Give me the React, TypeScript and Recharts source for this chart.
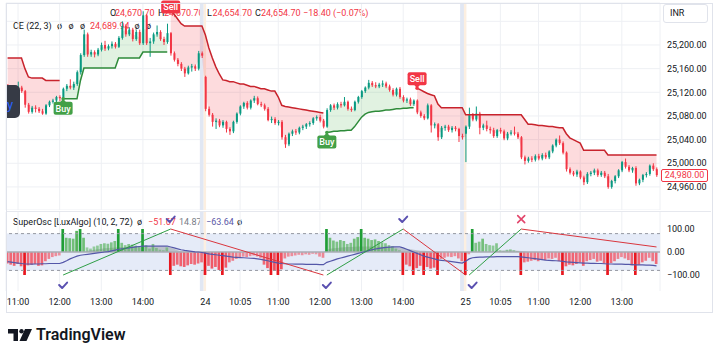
import React from 'react';
import {
  ComposedChart,
  Bar,
  Line,
  Area,
  XAxis,
  YAxis,
  CartesianGrid,
  ReferenceArea,
  ReferenceLine,
  ReferenceDot,
  Cell,
} from 'recharts';

const FONT = 'Roboto, "Noto Sans", sans-serif';
const TEXT = '#131722';
const RED = '#f23645';
const UP = '#089981';
const GRID = '#eef0f4';

// time axis (5 min bars, index based)
const timeTicks = [3, 15, 27, 39, 57, 67, 78, 90, 102, 114, 132, 142, 153, 165, 177];
const timeLabels = ['11:00', '12:00', '13:00', '14:00', '24', '10:05', '11:00', '12:00', '13:00', '14:00', '25', '10:05', '11:00', '12:00', '13:00'];
const sessionStarts = [57, 132];
const priceTicks = [24960, 25000, 25040, 25080, 25120, 25160, 25200, 25240];
const oscTicks = [-100, 0, 100];

// candles: [open, high, low, close]
const day1 = [
  [25128, 25134, 25118, 25122], [25122, 25130, 25116, 25126], [25126, 25132, 25117, 25120], [25120, 25138, 25116, 25128],
  [25128, 25131, 25119, 25122], [25122, 25124, 25094, 25099], [25099, 25102, 25084, 25087], [25087, 25097, 25084, 25094],
  [25094, 25098, 25086, 25092], [25092, 25095, 25085, 25088], [25088, 25092, 25082, 25084], [25084, 25100, 25082, 25098],
  [25098, 25106, 25095, 25104], [25104, 25109, 25101, 25106], [25106, 25114, 25103, 25112], [25112, 25115, 25105, 25110],
  [25110, 25128, 25108, 25126], [25126, 25134, 25122, 25131], [25131, 25142, 25125, 25128], [25128, 25138, 25124, 25134],
  [25134, 25157, 25131, 25154], [25154, 25186, 25150, 25183], [25183, 25226, 25180, 25218], [25218, 25221, 25180, 25184],
  [25184, 25192, 25180, 25188], [25188, 25191, 25179, 25184], [25184, 25195, 25181, 25192], [25192, 25204, 25189, 25200],
  [25200, 25207, 25190, 25194], [25194, 25201, 25191, 25198], [25198, 25206, 25194, 25202], [25202, 25205, 25194, 25197],
  [25197, 25215, 25195, 25212], [25212, 25240, 25209, 25232], [25232, 25235, 25214, 25218], [25218, 25230, 25215, 25226],
  [25226, 25229, 25206, 25210], [25210, 25226, 25207, 25222], [25222, 25226, 25200, 25203], [25203, 25257, 25200, 25250],
  [25250, 25252, 25200, 25203], [25203, 25212, 25180, 25206], [25206, 25221, 25202, 25218], [25218, 25233, 25214, 25222],
  [25222, 25225, 25207, 25210], [25210, 25214, 25200, 25205], [25205, 25236, 25202, 25220], [25220, 25222, 25182, 25186],
  [25186, 25189, 25172, 25175], [25175, 25178, 25164, 25168], [25168, 25171, 25156, 25160], [25160, 25163, 25146, 25152],
  [25152, 25165, 25150, 25162], [25162, 25168, 25155, 25164], [25164, 25167, 25156, 25160], [25160, 25190, 25157, 25186],
  [25186, 25189, 25178, 25182],
];

const day2 = [
  [25146, 25148, 25088, 25092], [25092, 25096, 25079, 25082], [25082, 25085, 25062, 25070], [25070, 25076, 25058, 25072],
  [25072, 25075, 25061, 25064], [25064, 25073, 25060, 25070], [25070, 25072, 25052, 25058], [25058, 25061, 25048, 25054],
  [25054, 25072, 25051, 25070], [25070, 25086, 25067, 25084], [25084, 25098, 25081, 25096], [25096, 25104, 25092, 25102],
  [25102, 25105, 25091, 25094], [25094, 25108, 25091, 25106], [25106, 25114, 25102, 25110], [25110, 25113, 25098, 25100],
  [25100, 25104, 25095, 25098], [25098, 25101, 25089, 25092], [25092, 25095, 25071, 25073], [25073, 25079, 25068, 25075],
  [25075, 25078, 25065, 25068], [25068, 25073, 25064, 25070], [25070, 25073, 25040, 25044], [25044, 25048, 25026, 25032],
  [25032, 25052, 25029, 25050], [25050, 25057, 25046, 25054], [25054, 25058, 25048, 25052], [25052, 25062, 25049, 25060],
  [25060, 25065, 25056, 25062], [25062, 25068, 25058, 25066], [25066, 25071, 25062, 25068], [25068, 25078, 25065, 25076],
  [25076, 25081, 25072, 25078], [25078, 25082, 25069, 25072], [25072, 25075, 25059, 25062], [25062, 25093, 25060, 25090],
  [25090, 25100, 25087, 25098], [25098, 25101, 25090, 25094], [25094, 25103, 25091, 25100], [25100, 25104, 25094, 25098],
  [25098, 25112, 25096, 25104], [25104, 25106, 25089, 25092], [25092, 25096, 25087, 25090], [25090, 25106, 25088, 25104],
  [25104, 25114, 25101, 25112], [25112, 25124, 25109, 25122], [25122, 25130, 25119, 25128], [25128, 25141, 25125, 25136],
  [25136, 25139, 25129, 25132], [25132, 25137, 25127, 25130], [25130, 25136, 25127, 25133], [25133, 25140, 25129, 25135],
  [25135, 25138, 25127, 25130], [25130, 25133, 25121, 25124], [25124, 25127, 25113, 25116], [25116, 25128, 25113, 25126],
  [25126, 25129, 25109, 25112], [25112, 25115, 25103, 25106], [25106, 25111, 25102, 25108], [25108, 25111, 25097, 25100],
  [25100, 25108, 25097, 25106], [25106, 25108, 25083, 25086], [25086, 25089, 25077, 25080], [25080, 25083, 25073, 25076],
  [25076, 25101, 25074, 25098], [25098, 25100, 25052, 25064], [25064, 25069, 25059, 25066], [25066, 25068, 25038, 25044],
  [25044, 25063, 25041, 25060], [25060, 25065, 25055, 25062], [25062, 25065, 25053, 25056], [25056, 25063, 25052, 25060],
  [25060, 25063, 25054, 25058], [25058, 25060, 25036, 25046], [25046, 25050, 25040, 25044],
];

const day3 = [
  [25050, 25064, 25002, 25062], [25062, 25094, 25058, 25082], [25082, 25085, 25071, 25074], [25074, 25096, 25071, 25084],
  [25084, 25087, 25049, 25060], [25060, 25067, 25056, 25064], [25064, 25072, 25054, 25058], [25058, 25062, 25050, 25056],
  [25056, 25060, 25043, 25046], [25046, 25058, 25043, 25056], [25056, 25060, 25050, 25054], [25054, 25057, 25039, 25042],
  [25042, 25053, 25039, 25050], [25050, 25056, 25047, 25052], [25052, 25062, 25047, 25050], [25050, 25053, 25041, 25044],
  [25044, 25046, 25007, 25010], [25010, 25013, 24998, 25004], [25004, 25011, 25001, 25008], [25008, 25012, 25002, 25006],
  [25006, 25015, 25003, 25012], [25012, 25016, 25005, 25008], [25008, 25017, 25005, 25014], [25014, 25018, 25007, 25010],
  [25010, 25022, 25007, 25020], [25020, 25032, 25017, 25030], [25030, 25042, 25027, 25040], [25040, 25047, 25031, 25034],
  [25034, 25037, 25015, 25018], [25018, 25020, 24986, 24990], [24990, 24993, 24981, 24984], [24984, 24987, 24978, 24981],
  [24981, 24989, 24977, 24986], [24986, 24988, 24973, 24976], [24976, 24979, 24963, 24968], [24968, 24985, 24965, 24982],
  [24982, 24987, 24978, 24984], [24984, 24991, 24980, 24988], [24988, 24991, 24977, 24980], [24980, 24987, 24977, 24984],
  [24984, 24987, 24975, 24978], [24978, 24982, 24957, 24960], [24960, 24972, 24957, 24970], [24970, 24980, 24966, 24978],
  [24978, 24990, 24975, 24988], [24988, 25004, 24985, 25002], [25002, 25008, 24991, 24994], [24994, 24997, 24985, 24988],
  [24988, 24994, 24984, 24992], [24992, 24995, 24962, 24966], [24966, 24974, 24963, 24972], [24972, 24982, 24968, 24980],
  [24980, 24985, 24976, 24982], [24982, 24998, 24979, 24996], [24996, 25000, 24987, 24990], [24990, 24993, 24977, 24980],
];

// chandelier exit stop lines, each run starts at a bar index
const shortStops = [
  { start: 0, values: [25178, 25178, 25178, 25178, 25178, 25160, 25146, 25144, 25144, 25144, 25144, 25140, 25140, 25140, 25140, 25140] },
  {
    start: 47,
    values: [
      25258, 25252, 25244, 25236, 25232, 25232, 25232, 25232, 25232, 25232, 25217, 25195, 25178, 25163, 25151, 25141,
      25140, 25138, 25138, 25136, 25134, 25134, 25132, 25130, 25130, 25128, 25126, 25126, 25124, 25122, 25122, 25112,
      25098, 25096, 25095, 25094, 25093, 25092, 25091, 25090, 25089, 25088, 25087, 25086, 25085,
    ],
  },
  {
    start: 118,
    values: [
      25127, 25124, 25121, 25118, 25116, 25114, 25100, 25094, 25094, 25094, 25094, 25094, 25094, 25094,
      25082, 25082, 25082, 25082, 25082, 25082, 25082, 25082, 25082, 25082, 25082, 25082, 25082, 25082, 25082, 25082, 25082,
      25074, 25066, 25066, 25065, 25064, 25064, 25063, 25062, 25062, 25061, 25060, 25060, 25050, 25043, 25040, 25037, 25034,
      25022, 25022, 25022, 25022, 25022, 25022, 25022,
      25014, 25014, 25014, 25014, 25014, 25014, 25014, 25014, 25014, 25014, 25014, 25014, 25014, 25014, 25014,
    ],
  },
];
const longStops = [
  {
    start: 16,
    values: [
      25109, 25109, 25109, 25109, 25109, 25140, 25161, 25161, 25161, 25161, 25161, 25161, 25161, 25161, 25161, 25161,
      25178, 25178, 25178, 25178, 25178, 25178, 25178, 25188, 25188, 25188, 25188, 25188, 25188, 25188, 25188,
    ],
  },
  {
    start: 92,
    values: [
      25052, 25053, 25054, 25054, 25055, 25055, 25056, 25056, 25062, 25070, 25078, 25083, 25086,
      25087, 25088, 25088, 25089, 25090, 25090, 25091, 25092, 25092, 25093, 25093, 25094, 25094,
    ],
  },
];
const buys = [16, 92];
const sells = [47, 118];

// SuperOsc [LuxAlgo]
const osc = [
  -50, -55, -60, -52, -62, -100, -58, -55, -52, -60, -58, -40, -30, -22, -18, -15,
  100, 62, 60, 58, 92, 100, 62, 20, 15, 24, 28, 35, 38, 36, 42, 48, 100, 40, 30, 35, 32, 28, 22, 100,
  30, 15, 35, 18, 10, 8, 20,
  -100, -60, -55, -62, -65, -58, -52, -55, -50, -45, -100, -60, -72, -65, -78, -100, -68,
  -45, -38, -30, -25, -20, -22, -18, -15, -20, -25, -55, -70, -100, -82, -100, -75,
  -28, -20, -18, -15, -12, -14, -10, -12, -8, -10, -20, -25,
  100, 62, 50, 45, 52, 48, 35, 40, 58, 65, 100, 62, 58, 52, 55, 48, 42, 38, 30, 25, 15, 8,
  -100, -55, -62, -100, -70, -60, -100, -65, -72, -68, -100, -30, -25, -20, -22, -18, -28, -40, -100, -10,
  100, 40, 45, 58, 35, 30, 28, 38, 8, 5, 10, 12, 8, 4,
  -100, -45, -42, -38, -35, -40, -32, -35, -28, -30, -25, -40, -100, -62, -55, -58, -52, -45, -60, -40, -35,
  -30, -42, -38, -50, -100, -48, -40, -30, -22, -28, -35, -58, -100, -55, -45, -38, -25, -40, -52,
];
const signal = [
  -42, -44, -46, -48, -50, -52, -52, -53, -52, -52, -51, -51, -50, -50, -50, -50,
  -45, -38, -30, -24, -18, -14,
  -12, -10, -8, -6, -4, -2, 0, 2, 5, 8, 12, 14, 16, 18, 20, 22, 24, 26, 26, 26, 26, 26, 26, 26, 26,
  22, 18, 14, 10, 7, 5, 3, 1, 0, -2, -5, -8, -10, -12, -14, -16, -18, -20, -22, -23, -24, -25, -26, -27, -28,
  -30, -32, -35, -38, -42, -45, -48, -50,
  -51, -52, -52, -53, -53, -53, -54, -54, -54, -54, -55, -55,
  -45, -40, -35, -30, -26, -22, -18, -14, -10, -6, -2, 2, 6, 10, 13, 16, 18, 20, 21, 22, 22, 22,
  18, 12, 6, 0, -6, -12, -18, -22, -26, -30, -34, -36, -38, -40, -42, -44, -46, -48,
  -40, -30, -25, -23, -22, -22, -21, -21, -21, -20, -20, -20, -20, -20, -20, -20, -21,
  -23, -25, -27, -29, -31, -33, -35, -36, -37, -38, -39, -41, -43, -44, -45, -46, -47, -48, -48, -49,
  -49, -50, -50, -51, -52, -52, -53, -53, -53, -54, -54, -55, -56, -56, -56, -57, -57, -58, -60,
];
const grayRuns = [
  { start: 23, values: [5, 8, 10, 12, 14, 16, 18, 19, 20, 21, 22, 22, 23, 23, 24, 24, 24, 24, 24, 24, 24, 24, 24, 24, 20, 14, 8, 4, 2, 0] },
  { start: 92, values: [10, 14, 16, 18, 20, 21, 22, 22, 23, 24, 24, 24, 24, 24, 24, 23, 23, 22, 22, 22, 20, 18, 16, 14, 12, 10, 8, 6, 5, 4, 3, 2, 1, 0] },
  { start: 140, values: [2, 4, 6, 7, 8, 8, 7, 6, 4, 2, 0] },
];
// zigzag legs: [fromIndex, fromValue, toIndex, toValue]
const upLegs = [[16, -100, 47, 100], [92, -100, 114, 100], [133, -100, 148, 100]];
const downLegs = [[47, 100, 91, -100], [114, 100, 132, -100], [148, 100, 187, 22]];
const checks = [[16, -148], [92, -148], [134, -148], [47, 139], [114, 139]];
const crosses = [[148, 143]];

const X_DOMAIN: [number, number] = [-0.46, 188];

function runAt(runs: { start: number; values: number[] }[], i: number) {
  for (const r of runs) {
    const k = i - r.start;
    if (k >= 0 && k < r.values.length) return r.values[k];
  }
  return null;
}

const candles = [...day1, ...day2, ...day3];

const priceRows = candles.map(([o, h, l, c], i) => {
  const mid = (o + h + l + c) / 4;
  const sh = runAt(shortStops, i);
  const lg = runAt(longStops, i);
  return {
    i, o, h, l, c,
    range: [l, h],
    shortStop: sh,
    longStop: lg,
    redBand: sh == null ? null : [mid, sh],
    greenBand: lg == null ? null : [lg, mid],
  };
});

const oscRows = osc.map((v, i) => {
  const row: any = { i, osc: v, sig: signal[i], gray: runAt(grayRuns, i) ?? 0 };
  upLegs.forEach((leg, k) => {
    if (i === leg[0]) row['up' + k] = leg[1];
    if (i === leg[2]) row['up' + k] = leg[3];
  });
  downLegs.forEach((leg, k) => {
    if (i === leg[0]) row['dn' + k] = leg[1];
    if (i === leg[2]) row['dn' + k] = leg[3];
  });
  return row;
});

const fmtPrice = (v: number) => v.toLocaleString('en-US', { minimumFractionDigits: 2, maximumFractionDigits: 2 });
const fmtOsc = (v: number) => (v < 0 ? '\u2212' : '') + Math.abs(v).toFixed(2);

function barColor(v: number) {
  const a = Math.abs(v);
  if (a >= 95) return v > 0 ? '#1f9e36' : '#e8171f';
  const alpha = Math.min(0.95, 0.42 + (0.45 * a) / 80).toFixed(2);
  return v > 0 ? `rgba(76,175,80,${alpha})` : `rgba(242,54,69,${alpha})`;
}

function Candle(props: any) {
  const { x, y, width, height, payload } = props;
  if (!payload) return null;
  const { o, h, l, c } = payload;
  const top = height < 0 ? y + height : y;
  const hh = Math.abs(height);
  const ratio = hh / (h - l);
  const color = c >= o ? UP : RED;
  const bodyTop = top + (h - Math.max(o, c)) * ratio;
  const bodyH = Math.max(1, Math.abs(o - c) * ratio);
  const mx = x + width / 2;
  return (
    <g>
      <line x1={mx} x2={mx} y1={top} y2={top + hh} stroke={color} strokeWidth={1} />
      <rect x={x} y={bodyTop} width={width} height={bodyH} fill={color} />
    </g>
  );
}

function PriceTick({ x, y, payload }: any) {
  if (payload.value > 25200) return <g />;
  return (
    <text x={x} y={y} dy="0.355em" textAnchor="start" fontSize={9} fill={TEXT} fontFamily={FONT}>
      {fmtPrice(payload.value)}
    </text>
  );
}

function SignalTag({ cx, cy, kind }: any) {
  const buy = kind === 'buy';
  const fill = buy ? '#43a047' : '#f23645';
  const w = 19;
  const h = 13;
  const top = buy ? cy + 3 : Math.max(0.5, cy - 3 - h);
  const tri = buy
    ? `M${cx - 3},${cy + 3.5} L${cx},${cy} L${cx + 3},${cy + 3.5}Z`
    : `M${cx - 3},${cy - 3.5} L${cx},${cy} L${cx + 3},${cy - 3.5}Z`;
  return (
    <g>
      <circle cx={cx} cy={cy} r={1.8} fill={fill} />
      <path d={tri} fill={fill} />
      <rect x={cx - w / 2} y={top} width={w} height={h} rx={2} fill={fill} />
      <text x={cx} y={top + h / 2 + 3.2} textAnchor="middle" fontSize={9} fill="#fff" fontFamily={FONT} fontWeight={500}>
        {buy ? 'Buy' : 'Sell'}
      </text>
    </g>
  );
}

function Check({ cx, cy }: any) {
  return (
    <path
      d={`M${cx - 4},${cy - 1} L${cx - 1},${cy + 2} L${cx + 4},${cy - 3.5}`}
      stroke="#5a50b0"
      strokeWidth={2}
      fill="none"
      strokeLinecap="round"
      strokeLinejoin="round"
    />
  );
}

function Cross({ cx, cy }: any) {
  return (
    <g stroke="#e2466c" strokeWidth={1.6} strokeLinecap="round">
      <line x1={cx - 3.5} y1={cy - 3.5} x2={cx + 3.5} y2={cy + 3.5} />
      <line x1={cx - 3.5} y1={cy + 3.5} x2={cx + 3.5} y2={cy - 3.5} />
    </g>
  );
}

const txt = (left: number, top: number, color: string, s: string, extra: any = {}) => (
  <span
    key={`${left}-${top}-${s}`}
    style={{ position: 'absolute', left, top, fontSize: 9, lineHeight: '11px', color, fontFamily: FONT, whiteSpace: 'nowrap', ...extra }}
  >
    {s}
  </span>
);

export default function App() {
  const sessionAreas = () =>
    sessionStarts.flatMap((s) => [
      <ReferenceArea key={`b${s}`} x1={s - 1.6} x2={s - 0.5} fill="#e1e7f3" fillOpacity={1} stroke="none" ifOverflow="hidden" />,
      <ReferenceArea key={`p${s}`} x1={s - 0.5} x2={s + 0.2} fill="#fcefe1" fillOpacity={1} stroke="none" ifOverflow="hidden" />,
    ]);

  return (
    <div style={{ position: 'absolute', left: 0, top: 0, width: 720, height: 356, background: '#fff', overflow: 'hidden', fontFamily: FONT }}>
      {/* legend rows, drawn under the chart */}
      {txt(110, 7.5, TEXT, 'O')}
      {txt(115, 7.5, RED, '24,670.70')}
      {txt(158, 7.5, TEXT, 'H')}
      {txt(164, 7.5, RED, '24,670.70')}
      {txt(207, 7.5, TEXT, 'L')}
      {txt(212.5, 7.5, RED, '24,654.70')}
      {txt(255, 7.5, TEXT, 'C')}
      {txt(261, 7.5, RED, '24,654.70')}
      {txt(303, 7.5, RED, '\u221218.40 (\u22120.07%)')}
      {txt(13, 20.5, TEXT, 'CE (22, 3)')}
      {txt(57, 20.5, TEXT, 'ø')}
      {txt(68.5, 20.5, TEXT, 'ø')}
      {txt(80, 20.5, TEXT, 'ø')}
      {txt(90, 20.5, RED, '24,689.94')}
      {txt(134.5, 20.5, TEXT, 'ø')}
      {txt(146, 20.5, TEXT, 'ø')}
      {txt(13, 217, TEXT, 'SuperOsc [LuxAlgo] (10, 2, 72)')}
      {txt(137, 217, TEXT, 'ø')}
      {txt(148, 217, RED, '\u221251.67')}
      {txt(179, 217, '#787b86', '14.87')}
      {txt(206, 217, '#5b57a6', '\u221263.64')}
      {txt(237, 217, TEXT, 'ø')}

      <div style={{ position: 'absolute', left: 0, top: 0 }}>
        <ComposedChart width={720} height={210} data={priceRows} margin={{ top: 3, right: 0, bottom: 0, left: 6 }}>
          <CartesianGrid stroke={GRID} />
          <XAxis dataKey="i" type="number" domain={X_DOMAIN} ticks={timeTicks} hide allowDataOverflow />
          <YAxis
            orientation="right"
            width={60}
            domain={[24921, 25271]}
            ticks={priceTicks}
            tick={<PriceTick />}
            axisLine={false}
            tickLine={false}
            tickMargin={1}
            allowDataOverflow
            interval={0}
          />
          {sessionAreas()}
          <Area dataKey="redBand" stroke="none" fill="rgba(242,54,69,0.18)" fillOpacity={1} isAnimationActive={false} />
          <Area dataKey="greenBand" stroke="none" fill="rgba(76,175,80,0.17)" fillOpacity={1} isAnimationActive={false} />
          <Line dataKey="shortStop" stroke="#c8232c" strokeWidth={1.5} dot={false} isAnimationActive={false} />
          <Line dataKey="longStop" stroke="#2e8b3a" strokeWidth={1.5} dot={false} isAnimationActive={false} />
          <Bar dataKey="range" barSize={2} shape={<Candle />} isAnimationActive={false} />
          {buys.map((i) => (
            <ReferenceDot key={`buy${i}`} x={i} y={runAt(longStops, i) as number} r={0} ifOverflow="visible" shape={(p: any) => <SignalTag {...p} kind="buy" />} />
          ))}
          {sells.map((i) => (
            <ReferenceDot key={`sell${i}`} x={i} y={runAt(shortStops, i) as number} r={0} ifOverflow="visible" shape={(p: any) => <SignalTag {...p} kind="sell" />} />
          ))}
        </ComposedChart>
      </div>

      <div style={{ position: 'absolute', left: 0, top: 212 }}>
        <ComposedChart width={720} height={100} data={oscRows} margin={{ top: 0, right: 0, bottom: 0, left: 6 }}>
          <CartesianGrid stroke={GRID} horizontal={false} />
          <XAxis
            dataKey="i"
            type="number"
            domain={X_DOMAIN}
            ticks={timeTicks}
            interval={0}
            height={21}
            axisLine={false}
            tickLine={false}
            allowDataOverflow
            tickFormatter={(v: number) => timeLabels[timeTicks.indexOf(v)] ?? ''}
            tick={{ fontSize: 9, fill: TEXT, fontFamily: FONT }}
          />
          <YAxis
            orientation="right"
            width={60}
            domain={[-169.5, 174]}
            ticks={oscTicks}
            interval={0}
            axisLine={false}
            tickLine={false}
            tickMargin={1}
            allowDataOverflow
            tickFormatter={fmtOsc}
            tick={{ fontSize: 9, fill: TEXT, fontFamily: FONT, textAnchor: 'start' }}
          />
          <ReferenceArea y1={-80} y2={80} fill="#e5ebf8" fillOpacity={1} stroke="none" />
          {sessionAreas()}
          <ReferenceLine y={80} stroke="#9598a1" strokeDasharray="3 3" />
          <ReferenceLine y={-80} stroke="#9598a1" strokeDasharray="3 3" />
          <ReferenceLine y={0} stroke="#a9acb5" strokeWidth={1.5} />
          <Bar dataKey="osc" barSize={2.7} isAnimationActive={false}>
            {oscRows.map((r) => (
              <Cell key={r.i} fill={barColor(r.osc)} />
            ))}
          </Bar>
          <Area dataKey="gray" baseValue={0} stroke="none" fill="#8a8d96" fillOpacity={0.45} isAnimationActive={false} />
          <Line dataKey="sig" stroke="#5457a8" strokeWidth={1.2} dot={false} isAnimationActive={false} />
          {upLegs.map((_, k) => (
            <Line key={`up${k}`} dataKey={`up${k}`} stroke="#2f9e46" strokeWidth={1} dot={false} connectNulls isAnimationActive={false} />
          ))}
          {downLegs.map((_, k) => (
            <Line key={`dn${k}`} dataKey={`dn${k}`} stroke="#d9363e" strokeWidth={1} dot={false} connectNulls isAnimationActive={false} />
          ))}
          {checks.map(([i, v]) => (
            <ReferenceDot key={`ck${i}`} x={i} y={v} r={0} ifOverflow="visible" shape={(p: any) => <Check {...p} />} />
          ))}
          {crosses.map(([i, v]) => (
            <ReferenceDot key={`x${i}`} x={i} y={v} r={0} ifOverflow="visible" shape={(p: any) => <Cross {...p} />} />
          ))}
        </ComposedChart>
      </div>

      {/* frame, pane divider, price scale extras */}
      <div style={{ position: 'absolute', left: 6, top: 3, width: 705, height: 308, border: '1px solid #e0e3eb', pointerEvents: 'none' }} />
      <div style={{ position: 'absolute', left: 7, top: 211, width: 704, height: 1, background: '#e6e8ee' }} />
      <div
        style={{
          position: 'absolute', left: 663, top: 4, width: 45, height: 19, border: '1px solid #e0e3eb', borderRadius: 3,
          fontSize: 9, lineHeight: '17px', paddingLeft: 6, boxSizing: 'border-box', color: TEXT, background: '#fff',
        }}
      >
        INR
      </div>
      <div
        style={{
          position: 'absolute', left: 661, top: 169, width: 47, height: 13, border: `1px solid ${RED}`, borderRadius: 2,
          boxSizing: 'border-box', fontSize: 9, lineHeight: '11px', color: RED, textAlign: 'center', background: '#fff',
        }}
      >
        24,980.00
      </div>
      <div style={{ position: 'absolute', left: 7, top: 85, width: 13, height: 33, background: '#363a45', borderRadius: '0 5px 5px 0' }}>
        <span style={{ position: 'absolute', left: 0, top: 13, fontSize: 13, lineHeight: '13px', color: '#2962ff', fontFamily: FONT }}>y</span>
      </div>

      {/* TradingView logo */}
      <svg width={34} height={16} style={{ position: 'absolute', left: 6, top: 327 }}>
        <path d="M2,2 H12 V14 H7.5 V6.5 H2 Z" fill="#131722" />
        <circle cx={15.5} cy={4.3} r={2.2} fill="#131722" />
        <path d="M19,2 H26 L20.5,14 H13.5 Z" fill="#131722" />
      </svg>
      <div style={{ position: 'absolute', left: 36, top: 326, fontSize: 16, lineHeight: '18px', fontWeight: 600, color: '#131722', fontFamily: FONT }}>
        TradingView
      </div>
    </div>
  );
}
